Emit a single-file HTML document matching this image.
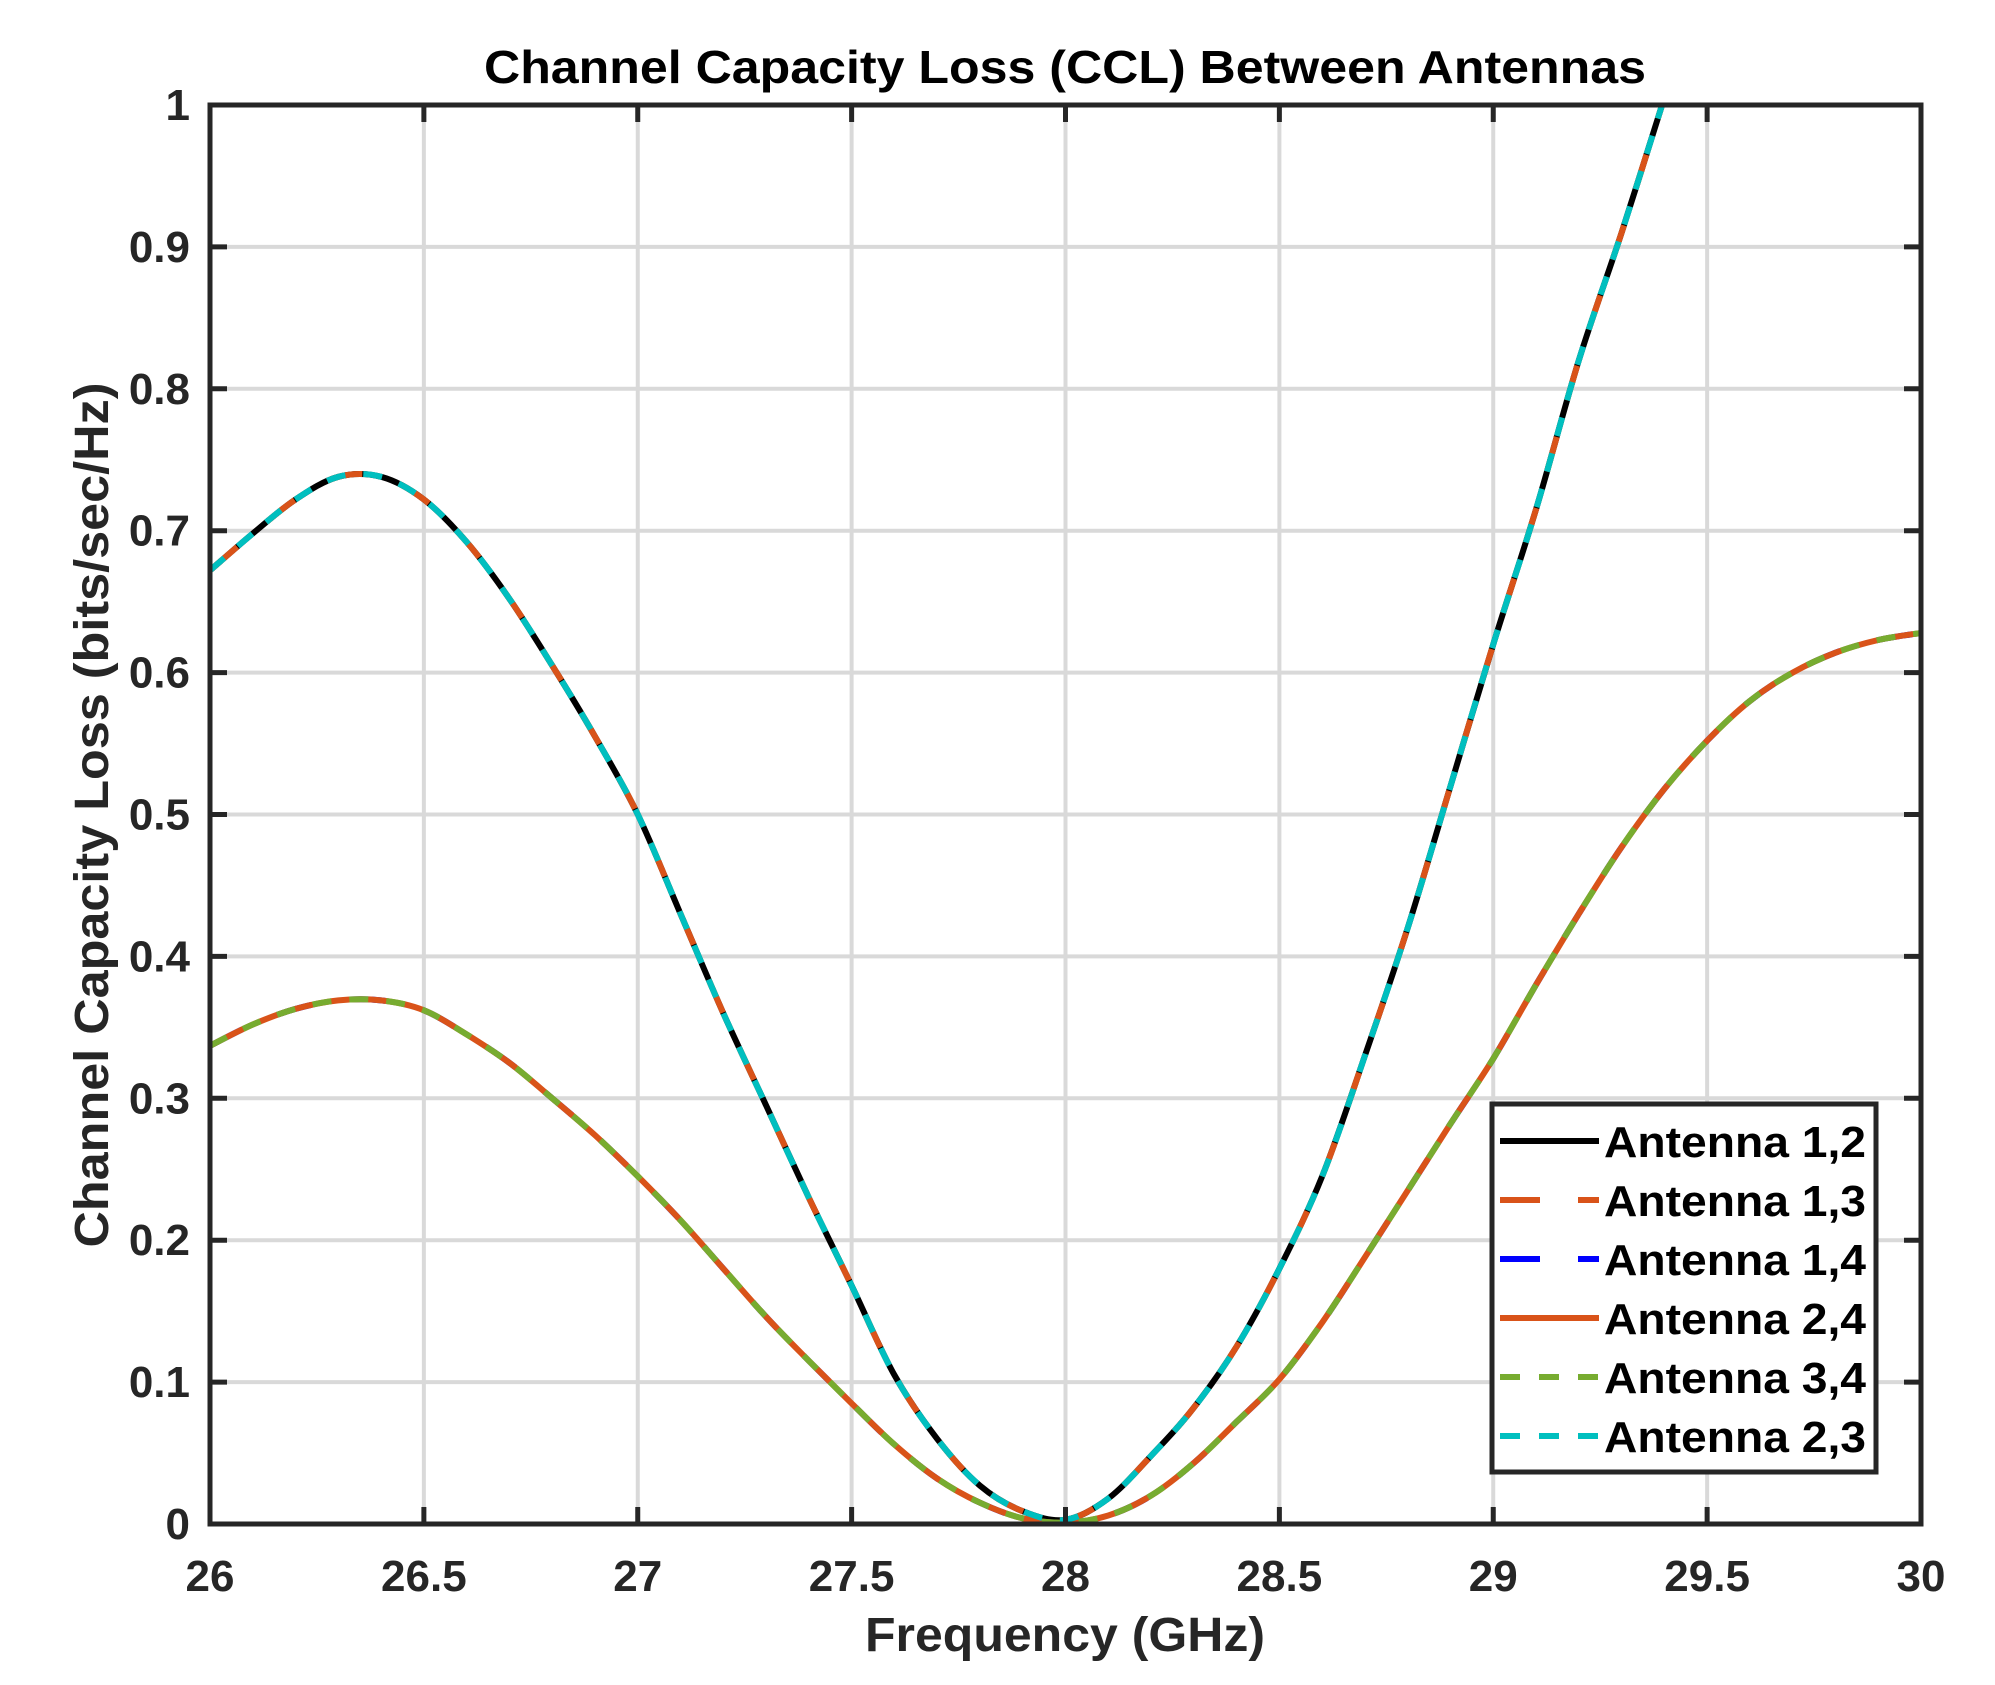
<!DOCTYPE html>
<html><head><meta charset="utf-8"><style>
html,body{margin:0;padding:0;background:#fff;}
svg{display:block;font-family:"Liberation Sans",Arial,sans-serif;font-weight:bold;}
</style></head><body>
<svg id="chart" width="1995" height="1685" viewBox="0 0 1995 1685">
<rect width="1995" height="1685" fill="#fff"/>
<g id="grid"></g>
<g id="series"></g>
<g id="axes"></g>
<text x="1065" y="83" text-anchor="middle" font-size="46" fill="#000" textLength="1162" lengthAdjust="spacingAndGlyphs">Channel Capacity Loss (CCL) Between Antennas</text>
<text x="1065" y="1651" text-anchor="middle" font-size="48" fill="#262626" textLength="400" lengthAdjust="spacingAndGlyphs">Frequency (GHz)</text>
<text transform="translate(108,815) rotate(-90)" text-anchor="middle" font-size="48" fill="#262626" textLength="865" lengthAdjust="spacingAndGlyphs">Channel Capacity Loss (bits/sec/Hz)</text>
<g id="legend"></g>
</svg>
<script>
const xTicks=[26,26.5,27,27.5,28,28.5,29,29.5,30];
const xTickLabels=["26","26.5","27","27.5","28","28.5","29","29.5","30"];
const yTicks=[0,0.1,0.2,0.3,0.4,0.5,0.6,0.7,0.8,0.9,1];
const yTickLabels=["0","0.1","0.2","0.3","0.4","0.5","0.6","0.7","0.8","0.9","1"];
const freqUpper=[26,26.1,26.2,26.3,26.4,26.5,26.6,26.7,26.8,26.9,27,27.1,27.2,27.3,27.4,27.5,27.6,27.7,27.8,27.9,28,28.1,28.2,28.3,28.4,28.5,28.6,28.7,28.8,28.9,29,29.1,29.2,29.3,29.4];
const ccl12=[0.672,0.698,0.722,0.738,0.738,0.722,0.692,0.652,0.605,0.555,0.50,0.43,0.36,0.295,0.23,0.168,0.105,0.06,0.027,0.009,0.003,0.018,0.048,0.082,0.125,0.18,0.245,0.33,0.42,0.52,0.62,0.715,0.82,0.91,1.005];
const ccl13=[0.672,0.698,0.722,0.738,0.738,0.722,0.692,0.652,0.605,0.555,0.50,0.43,0.36,0.295,0.23,0.168,0.105,0.06,0.027,0.009,0.003,0.018,0.048,0.082,0.125,0.18,0.245,0.33,0.42,0.52,0.62,0.715,0.82,0.91,1.005];
const ccl23=[0.672,0.698,0.722,0.738,0.738,0.722,0.692,0.652,0.605,0.555,0.50,0.43,0.36,0.295,0.23,0.168,0.105,0.06,0.027,0.009,0.003,0.018,0.048,0.082,0.125,0.18,0.245,0.33,0.42,0.52,0.62,0.715,0.82,0.91,1.005];
const freqLower=[26,26.1,26.2,26.3,26.4,26.5,26.6,26.7,26.8,26.9,27,27.1,27.2,27.3,27.4,27.5,27.6,27.7,27.8,27.9,28,28.1,28.2,28.3,28.4,28.5,28.6,28.7,28.8,28.9,29,29.1,29.2,29.3,29.4,29.5,29.6,29.7,29.8,29.9,30];
const ccl14=[0.337,0.352,0.363,0.369,0.369,0.362,0.345,0.325,0.30,0.274,0.245,0.214,0.18,0.146,0.115,0.085,0.056,0.032,0.015,0.004,0.001,0.006,0.02,0.043,0.072,0.102,0.142,0.188,0.235,0.282,0.328,0.38,0.43,0.477,0.518,0.552,0.58,0.60,0.614,0.623,0.628];
const ccl24=[0.337,0.352,0.363,0.369,0.369,0.362,0.345,0.325,0.30,0.274,0.245,0.214,0.18,0.146,0.115,0.085,0.056,0.032,0.015,0.004,0.001,0.006,0.02,0.043,0.072,0.102,0.142,0.188,0.235,0.282,0.328,0.38,0.43,0.477,0.518,0.552,0.58,0.60,0.614,0.623,0.628];
const ccl34=[0.337,0.352,0.363,0.369,0.369,0.362,0.345,0.325,0.30,0.274,0.245,0.214,0.18,0.146,0.115,0.085,0.056,0.032,0.015,0.004,0.001,0.006,0.02,0.043,0.072,0.102,0.142,0.188,0.235,0.282,0.328,0.38,0.43,0.477,0.518,0.552,0.58,0.60,0.614,0.623,0.628];
const seriesNames=["Antenna 1,2","Antenna 1,3","Antenna 1,4","Antenna 2,4","Antenna 3,4","Antenna 2,3"];

const L=210,R=1921,T=105,B=1524;
const xMin=26,xMax=30,yMin=0,yMax=1;
function xs(v){return L+(v-xMin)/(xMax-xMin)*(R-L);}
function ys(v){return B-(v-yMin)/(yMax-yMin)*(B-T);}
const NS="http://www.w3.org/2000/svg";
function mk(tag,attrs,parent){const e=document.createElementNS(NS,tag);for(const k in attrs)e.setAttribute(k,attrs[k]);parent.appendChild(e);return e;}

const grid=document.getElementById('grid');
xTicks.forEach((t,i)=>{const l=mk('line',{x1:xs(t),x2:xs(t),y1:T,y2:B,stroke:'#d9d9d9','stroke-width':4},grid);

});
yTicks.forEach((t,i)=>{const l=mk('line',{x1:L,x2:R,y1:ys(t),y2:ys(t),stroke:'#d9d9d9','stroke-width':4},grid);

});

const defs=[
 {x:freqUpper,y:ccl12,c:'#000000',d:null,n:'series-antenna-1-2'},
 {x:freqUpper,y:ccl13,c:'#d95319',d:'36 38',n:'series-antenna-1-3'},
 {x:freqLower,y:ccl14,c:'#0000ff',d:'36 38',n:'series-antenna-1-4'},
 {x:freqLower,y:ccl24,c:'#d95319',d:null,n:'series-antenna-2-4'},
 {x:freqLower,y:ccl34,c:'#77ac30',d:'19 18',n:'series-antenna-3-4'},
 {x:freqUpper,y:ccl23,c:'#00bfbf',d:'19 18',n:'series-antenna-2-3'}
];
function pathFor(X,Y){
 const p=X.map((x,i)=>[xs(x),ys(Y[i])]);
 let d='M'+p[0][0].toFixed(1)+','+p[0][1].toFixed(1);
 for(let i=0;i<p.length-1;i++){
  const p0=p[Math.max(0,i-1)],p1=p[i],p2=p[i+1],p3=p[Math.min(p.length-1,i+2)];
  const c1=[p1[0]+(p2[0]-p0[0])/6,p1[1]+(p2[1]-p0[1])/6];
  const c2=[p2[0]-(p3[0]-p1[0])/6,p2[1]-(p3[1]-p1[1])/6];
  d+=' C'+c1[0].toFixed(1)+','+c1[1].toFixed(1)+' '+c2[0].toFixed(1)+','+c2[1].toFixed(1)+' '+p2[0].toFixed(1)+','+p2[1].toFixed(1);
 }
 return d;
}
const sg=document.getElementById('series');
mk('clipPath',{id:'clip'},sg);
mk('rect',{x:L,y:T,width:R-L,height:B-T},document.getElementById('clip'));
defs.forEach(s=>{
 const a={d:pathFor(s.x,s.y),fill:'none',stroke:s.c,'stroke-width':6,'clip-path':'url(#clip)','stroke-linejoin':'round'};
 if(s.d)a['stroke-dasharray']=s.d;
 const e=mk('path',a,sg);
 
 
});

const ax=document.getElementById('axes');
const fr=mk('rect',{x:L,y:T,width:R-L,height:B-T,fill:'none',stroke:'#262626','stroke-width':5},ax);


xTicks.forEach((t,i)=>{
 mk('line',{x1:xs(t),x2:xs(t),y1:B,y2:B-17,stroke:'#262626','stroke-width':5},ax);
 mk('line',{x1:xs(t),x2:xs(t),y1:T,y2:T+17,stroke:'#262626','stroke-width':5},ax);
 const tx=mk('text',{x:xs(t),y:1591,'text-anchor':'middle','font-size':44,fill:'#262626'},ax);
 tx.textContent=xTickLabels[i];
 
 
});
yTicks.forEach((t,i)=>{
 mk('line',{x1:L,x2:L+17,y1:ys(t),y2:ys(t),stroke:'#262626','stroke-width':5},ax);
 mk('line',{x1:R,x2:R-17,y1:ys(t),y2:ys(t),stroke:'#262626','stroke-width':5},ax);
 const tx=mk('text',{x:190,y:ys(t)+15,'text-anchor':'end','font-size':44,fill:'#262626'},ax);
 tx.textContent=yTickLabels[i];
 
 
});

const lg=document.getElementById('legend');
const lb=mk('rect',{x:1492,y:1104,width:384,height:368,fill:'#fff',stroke:'#262626','stroke-width':5},lg);


defs.forEach((s,i)=>{
 const y=1141+i*59;
 const a={x1:1500,x2:1599,y1:y,y2:y,stroke:s.c,'stroke-width':6};
 if(s.d)a['stroke-dasharray']=(s.d==='36 38'?'40 38':'20 19');
 const ln=mk('line',a,lg);
 
 
 const tx=mk('text',{x:1604,y:y+16,'font-size':44,fill:'#000',textLength:262,lengthAdjust:'spacingAndGlyphs'},lg);
 tx.textContent=seriesNames[i];
 
 
});
</script>
</body></html>
